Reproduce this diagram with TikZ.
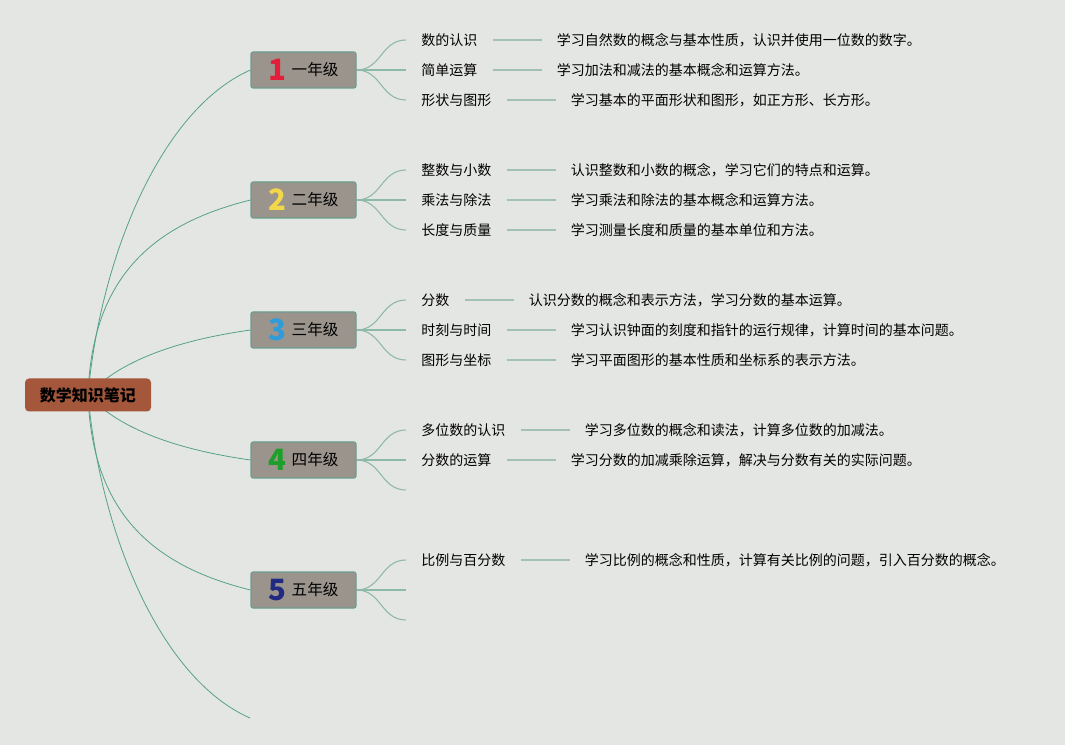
\documentclass[tikz,border=0pt]{standalone}
\usepackage{fontspec}
\setmainfont{Noto Sans CJK SC}
\usetikzlibrary{positioning,backgrounds}
\definecolor{bgcol}{HTML}{E4E6E3}
\definecolor{rootcol}{HTML}{A5573B}
\definecolor{gradecol}{HTML}{9A948C}
\definecolor{gradeline}{HTML}{6A9E8E}
\definecolor{trunkcol}{HTML}{55A08C}
\definecolor{branchcol}{HTML}{8DB8AA}
\definecolor{linkcol}{HTML}{A3C0B6}
\definecolor{numred}{HTML}{E41E3A}
\definecolor{numyellow}{HTML}{F2D74B}
\definecolor{numblue}{HTML}{2E9BDB}
\definecolor{numgreen}{HTML}{1E9E2A}
\definecolor{numnavy}{HTML}{1F2A80}
\tikzset{
  root/.style={fill=rootcol, rounded corners=3pt, minimum width=94.5pt,
    minimum height=24.75pt, font=\bfseries\fontsize{12}{14}\selectfont},
  grade/.style={fill=gradecol, draw=gradeline, line width=0.8pt,
    rounded corners=1.5pt, minimum width=78.75pt, minimum height=27pt,
    inner xsep=2pt, font=\fontsize{11.7}{14}\selectfont},
  topic/.style={anchor=west, inner xsep=11.25pt, inner ysep=2pt,
    font=\fontsize{10.5}{12}\selectfont},
  desc/.style={inner xsep=11.25pt, inner ysep=2pt,
    font=\fontsize{10.5}{12}\selectfont},
  trunk/.style={draw=trunkcol, line width=0.6pt},
  branch/.style={draw=branchcol, line width=0.8pt},
  link/.style={draw=linkcol, line width=1.1pt}
}
\newcommand\gradenum[2]{\raisebox{-3.7pt}{\fontsize{22}{22}\selectfont\bfseries\color{#1}#2}\hspace{4pt}}

\begin{document}
\begin{tikzpicture}[x=0.75pt, y=-0.75pt]
    \useasboundingbox (0,0) rectangle (1065,745);

    \node[root] (root) at (88,395) {数学知识笔记};

    \node[grade] (g1) at (303.5,70)  {\gradenum{numred}{1}一年级};
    \node[grade] (g2) at (303.5,200) {\gradenum{numyellow}{2}二年级};
    \node[grade] (g3) at (303.5,330) {\gradenum{numblue}{3}三年级};
    \node[grade] (g4) at (303.5,460) {\gradenum{numgreen}{4}四年级};
    \node[grade] (g5) at (303.5,590) {\gradenum{numnavy}{5}五年级};
    \coordinate (g6) at (250,718);

    % grade 1
    \node[topic] (t11) at (406,40)  {数的认识};
    \node[topic] (t12) at (406,70)  {简单运算};
    \node[topic] (t13) at (406,100) {形状与图形};
    \node[desc, right=36.75pt of t11] (d11) {学习自然数的概念与基本性质，认识并使用一位数的数字。};
    \node[desc, right=36.75pt of t12] (d12) {学习加法和减法的基本概念和运算方法。};
    \node[desc, right=36.75pt of t13] (d13) {学习基本的平面形状和图形，如正方形、长方形。};

    % grade 2
    \node[topic] (t21) at (406,170) {整数与小数};
    \node[topic] (t22) at (406,200) {乘法与除法};
    \node[topic] (t23) at (406,230) {长度与质量};
    \node[desc, right=36.75pt of t21] (d21) {认识整数和小数的概念，学习它们的特点和运算。};
    \node[desc, right=36.75pt of t22] (d22) {学习乘法和除法的基本概念和运算方法。};
    \node[desc, right=36.75pt of t23] (d23) {学习测量长度和质量的基本单位和方法。};

    % grade 3
    \node[topic] (t31) at (406,300) {分数};
    \node[topic] (t32) at (406,330) {时刻与时间};
    \node[topic] (t33) at (406,360) {图形与坐标};
    \node[desc, right=36.75pt of t31] (d31) {认识分数的概念和表示方法，学习分数的基本运算。};
    \node[desc, right=36.75pt of t32] (d32) {学习认识钟面的刻度和指针的运行规律，计算时间的基本问题。};
    \node[desc, right=36.75pt of t33] (d33) {学习平面图形的基本性质和坐标系的表示方法。};

    % grade 4
    \node[topic] (t41) at (406,430) {多位数的认识};
    \node[topic] (t42) at (406,460) {分数的运算};
    \coordinate (t43) at (406,490);
    \node[desc, right=36.75pt of t41] (d41) {学习多位数的概念和读法，计算多位数的加减法。};
    \node[desc, right=36.75pt of t42] (d42) {学习分数的加减乘除运算，解决与分数有关的实际问题。};

    % grade 5
    \node[topic] (t51) at (406,560) {比例与百分数};
    \coordinate (t52) at (406,590);
    \coordinate (t53) at (406,620);
    \node[desc, right=36.75pt of t51] (d51) {学习比例的概念和性质，计算有关比例的问题，引入百分数的概念。};

    \begin{scope}[on background layer]
      \fill[bgcol] (0,0) rectangle (1065,745);

      \draw[trunk] (root.center) .. controls +(12,-135) and +(-91,40)  .. (g1.west);
      \draw[trunk] (root.center) .. controls +(4,-115)  and +(-101,25) .. (g2.west);
      \draw[trunk] (root.center) .. controls +(32,-35)  and +(-71,10)  .. (g3.west);
      \draw[trunk] (root.center) .. controls +(32,35)   and +(-71,-10) .. (g4.west);
      \draw[trunk] (root.center) .. controls +(4,115)   and +(-101,-25) .. (g5.west);
      \draw[trunk] (root.center) .. controls +(12,135)  and +(-91,-40) .. (g6);

      \draw[branch] (g1.east) .. controls +(25,0) and +(-25,0) .. (t11.west);
      \draw[branch] (g1.east) -- (t12.west);
      \draw[branch] (g1.east) .. controls +(25,0) and +(-25,0) .. (t13.west);
      \draw[branch] (g2.east) .. controls +(25,0) and +(-25,0) .. (t21.west);
      \draw[branch] (g2.east) -- (t22.west);
      \draw[branch] (g2.east) .. controls +(25,0) and +(-25,0) .. (t23.west);
      \draw[branch] (g3.east) .. controls +(25,0) and +(-25,0) .. (t31.west);
      \draw[branch] (g3.east) -- (t32.west);
      \draw[branch] (g3.east) .. controls +(25,0) and +(-25,0) .. (t33.west);
      \draw[branch] (g4.east) .. controls +(25,0) and +(-25,0) .. (t41.west);
      \draw[branch] (g4.east) -- (t42.west);
      \draw[branch] (g4.east) .. controls +(25,0) and +(-25,0) .. (t43);
      \draw[branch] (g5.east) .. controls +(25,0) and +(-25,0) .. (t51.west);
      \draw[branch] (g5.east) -- (t52);
      \draw[branch] (g5.east) .. controls +(25,0) and +(-25,0) .. (t53);

      \path[link]
        (t11) edge (d11)  (t12) edge (d12)  (t13) edge (d13)
        (t21) edge (d21)  (t22) edge (d22)  (t23) edge (d23)
        (t31) edge (d31)  (t32) edge (d32)  (t33) edge (d33)
        (t41) edge (d41)  (t42) edge (d42)
        (t51) edge (d51);
    \end{scope}
\end{tikzpicture}
\end{document}
